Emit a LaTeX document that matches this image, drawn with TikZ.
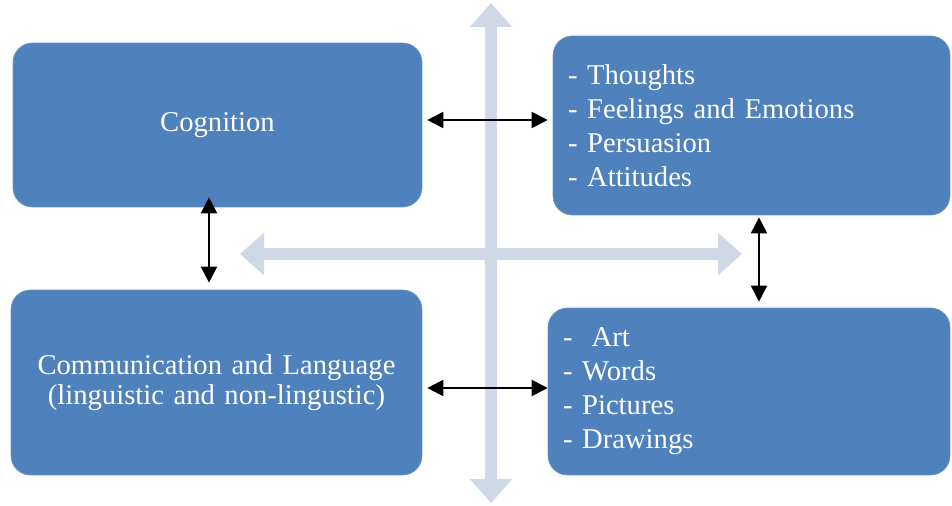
\documentclass[tikz,border=0pt]{standalone}
\usepackage{fontspec}
\setmainfont{Liberation Serif}
\usetikzlibrary{arrows.meta,positioning}
\definecolor{boxblue}{RGB}{79,129,189}
\definecolor{crossgray}{RGB}{208,216,232}

\begin{document}
\begin{tikzpicture}[
  x=0.02cm, y=-0.02cm,
  box/.style={fill=boxblue, draw=boxblue!85!white, rounded corners=11pt,
              text=white, inner xsep=0.3cm, inner ysep=0pt,
              font=\fontsize{16.3}{19.3}\selectfont},
  cross/.style={draw=crossgray, line width=0.24cm,
                {Triangle[width=0.82cm,length=0.48cm]}-{Triangle[width=0.82cm,length=0.48cm]}},
  dbl/.style={draw, line width=1.1pt,
              {Triangle[length=0.32cm,width=0.32cm]}-{Triangle[length=0.32cm,width=0.32cm]}}
]
  \useasboundingbox (0,0) rectangle (952,506);

  % light cross in the back
  \coordinate (top)   at (491,3);
  \coordinate (bot)   at (491,503);
  \coordinate (left)  at (240,254);
  \coordinate (right) at (742,254);
  \draw[cross] (top) -- (bot);
  \draw[cross] (left) -- (right);

  \node[box, minimum width=8.18cm, minimum height=3.28cm, text width=7.58cm,
        align=center] (cog) at (217.5,125) {Cognition};
  \node[box, minimum width=7.94cm, minimum height=3.58cm, text width=7.34cm,
        align=left] (tr) at (751.5,125.5)
        {- Thoughts\\- Feelings and Emotions\\- Persuasion\\- Attitudes};
  \node[box, minimum width=8.22cm, minimum height=3.7cm, text width=7.62cm,
        align=center, font=\fontsize{16.3}{17.2}\selectfont] (comm) at (216.5,382.5)
        {Communication and Language\\(linguistic and non-lingustic)};
  \node[box, minimum width=8.04cm, minimum height=3.34cm, text width=7.44cm,
        align=left] (br) at (749,391.5)
        {-\ \ Art\\- Words\\- Pictures\\- Drawings};

  \draw[dbl] ([xshift=0.1cm,yshift=0.1cm]cog.east) -- ([xshift=-0.1cm,yshift=0.11cm]tr.west);
  \draw[dbl] ([xshift=-0.17cm,yshift=0.2cm]cog.south) -- ([xshift=-0.15cm,yshift=0.14cm]comm.north);
  \draw[dbl] ([xshift=0.15cm,yshift=-0.04cm]tr.south) -- ([xshift=0.2cm,yshift=0.12cm]br.north);
  \draw[dbl] ([xshift=0.1cm,yshift=-0.11cm]comm.east) -- ([yshift=0.07cm]br.west);
\end{tikzpicture}
\end{document}
